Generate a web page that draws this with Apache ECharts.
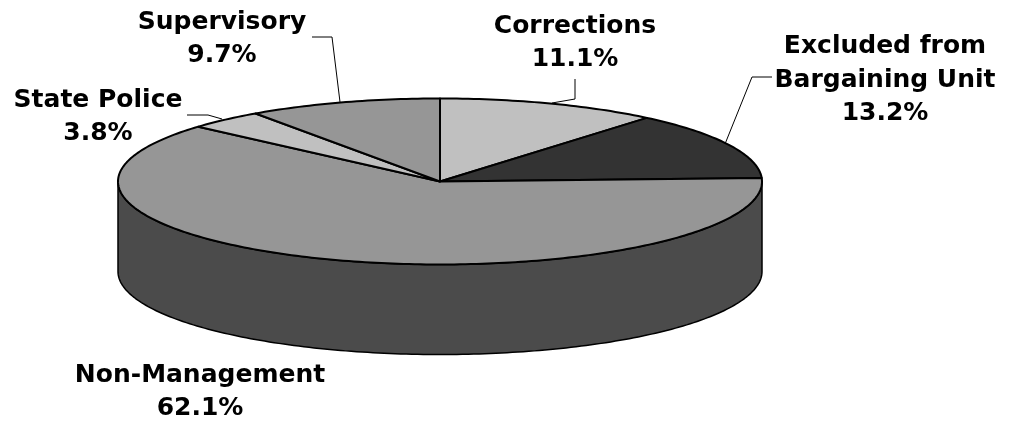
<!DOCTYPE html>
<html>
<head>
<meta charset="utf-8">
<style>html,body{margin:0;padding:0;background:#fff}#c{width:1011px;height:422px}</style>
<script src="https://cdn.jsdelivr.net/npm/echarts@6/dist/echarts.min.js"></script>
</head>
<body>
<div id="c"></div>
<script>
// Data, clockwise from 12 o'clock
const categories = ['Corrections', 'Excluded from\nBargaining Unit', 'Non-Management', 'State Police', 'Supervisory'];
const shares = [11.1, 13.2, 62.1, 3.8, 9.7];

// Styles and layout
const topColors = ['#c0c0c0', '#333333', '#969696', '#c0c0c0', '#969696'];
const sideColor = '#4b4b4b';
const CX = 440, CY = 181.5, RX = 322, RY = 83, DEPTH = 90;
const FONT = { size: 25, family: '"DejaVu Sans"', lineHeight: 33.5 };
const labelAnchors = [[575, 43], [885, 80], [200, 392], [98, 117], [222, 39]];
const leaderLines = [
  [[575, 79], [575, 99], [552, 103]],
  [[772, 77], [752, 77], [725, 144]],
  null,
  [[187, 115], [208, 115], [222, 119]],
  [[312, 37], [332, 37], [340, 102]]
];

const total = shares.reduce((a, b) => a + b, 0);
const pt = (deg, dy) => {
  const r = deg * Math.PI / 180;
  return [CX + RX * Math.sin(r), CY - RY * Math.cos(r) + (dy || 0)];
};
const arc = (a0, a1, dy) => {
  const pts = [], n = Math.max(2, Math.ceil(Math.abs(a1 - a0)));
  for (let i = 0; i <= n; i++) pts.push(pt(a0 + (a1 - a0) * i / n, dy));
  return pts;
};
const startAngle = i => shares.slice(0, i).reduce((a, b) => a + b, 0) / total * 360;

function renderItem(params, api) {
  const i = params.dataIndex;
  const a0 = startAngle(i);
  const a1 = a0 + api.value(0) / total * 360;
  const children = [];
  const s0 = Math.max(a0, 90), s1 = Math.min(a1, 270);
  if (s1 > s0) {
    children.push({
      type: 'polygon',
      shape: { points: arc(s0, s1, 0).concat(arc(s1, s0, DEPTH)) },
      style: { fill: sideColor, stroke: '#000', lineWidth: 1.5, lineJoin: 'round' }
    });
  }
  children.push({
    type: 'polygon',
    shape: { points: [[CX, CY]].concat(arc(a0, a1, 0)) },
    style: { fill: topColors[i], stroke: '#000', lineWidth: 2, lineJoin: 'round' }
  });
  if (leaderLines[i]) {
    children.push({
      type: 'polyline',
      shape: { points: leaderLines[i] },
      style: { fill: 'none', stroke: '#000', lineWidth: 1 }
    });
  }
  children.push({
    type: 'text',
    x: labelAnchors[i][0],
    y: labelAnchors[i][1],
    style: {
      text: categories[i] + '\n' + shares[i].toFixed(1) + '%',
      fill: '#000',
      align: 'center',
      verticalAlign: 'middle',
      fontFamily: FONT.family,
      fontWeight: 'bold',
      fontSize: FONT.size,
      lineHeight: FONT.lineHeight
    }
  });
  return { type: 'group', children };
}

const chart = echarts.init(document.getElementById('c'), null, { renderer: 'canvas' });
chart.setOption({
  animation: false,
  backgroundColor: '#fff',
  series: [{
    type: 'custom',
    coordinateSystem: 'none',
    silent: true,
    renderItem,
    data: shares.map((v, i) => ({ name: categories[i], value: [v] }))
  }]
});
</script>
</body>
</html>
